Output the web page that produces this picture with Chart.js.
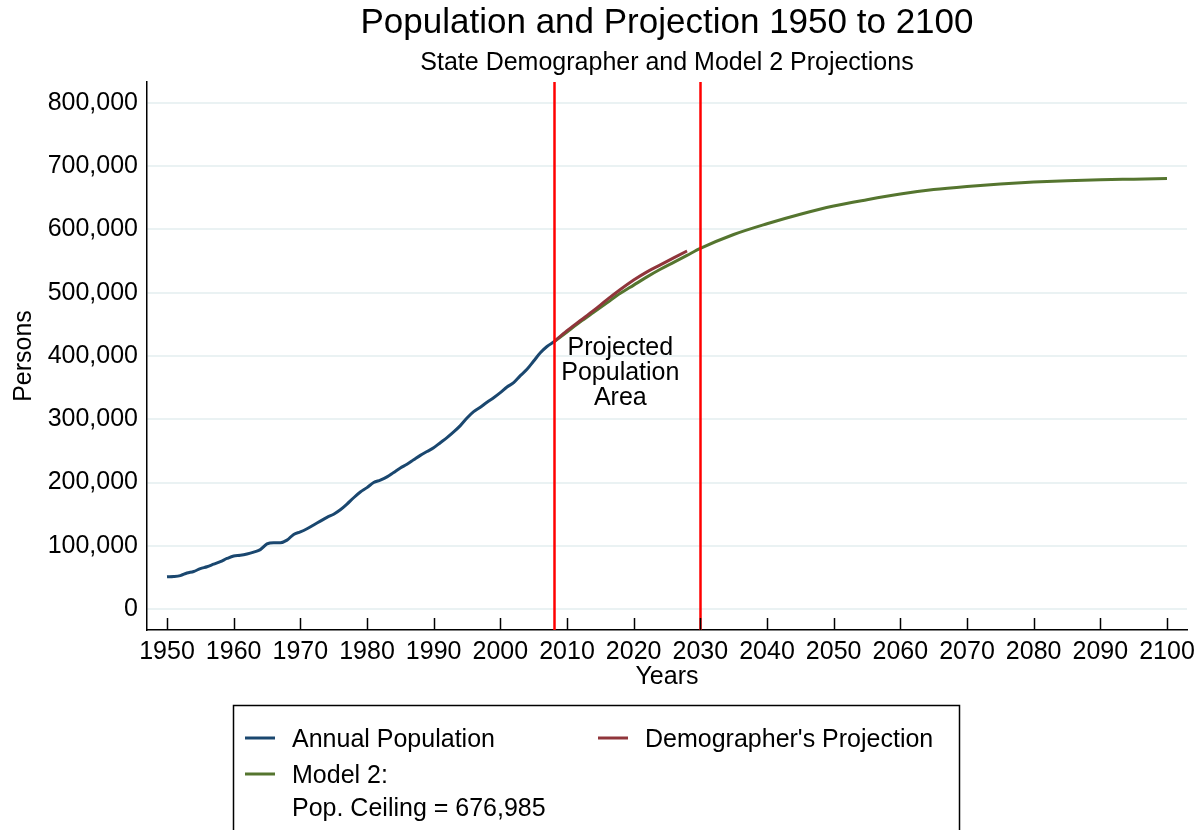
<!DOCTYPE html>
<html>
<head>
<meta charset="utf-8">
<title>Population and Projection 1950 to 2100</title>
<script src="https://cdn.jsdelivr.net/npm/chart.js@4.4.0/dist/chart.umd.min.js"></script>
<style>
  html, body { margin: 0; padding: 0; background: #fff; }
  canvas { display: block; }
</style>
</head>
<body>
<canvas id="popChart" width="1204" height="830"></canvas>
<script>
const FONT = '"Liberation Sans", Arial, sans-serif';

// annual population
const annualYears = [1950, 1951, 1952, 1953, 1954, 1955, 1956, 1957, 1958, 1959,
                     1960, 1961, 1962, 1963, 1964, 1965, 1966, 1967, 1968, 1969,
                     1970, 1971, 1972, 1973, 1974, 1975, 1976, 1977, 1978, 1979,
                     1980, 1981, 1982, 1983, 1984, 1985, 1986, 1987, 1988, 1989,
                     1990, 1991, 1992, 1993, 1994, 1995, 1996, 1997, 1998, 1999,
                     2000, 2001, 2002, 2003, 2004, 2005, 2006, 2007, 2008];
const annualPop = [51000, 51500, 53000, 57000, 59500, 64000, 67000, 71000, 75000, 80000,
                   84000, 85000, 87000, 90000, 94000, 103000, 105000, 105000, 109000, 118000,
                   122000, 127000, 133000, 139000, 145000, 150000, 157000, 166000, 176000, 185000,
                   192000, 200000, 204000, 209000, 216000, 223000, 229000, 236000, 243000, 249000,
                   255000, 263000, 271000, 280000, 290000, 302000, 312000, 319000, 327000, 334000,
                   342000, 351000, 358000, 369000, 379000, 392000, 405000, 415000, 422000];

// state demographer projection
const demogYears = [2008, 2010, 2012, 2014, 2016, 2018, 2020, 2022, 2024, 2026, 2028];
const demogPop = [422000, 440000, 456000, 472000, 489000, 505000, 520000, 533000, 544000, 555000, 566000];

// model 2 projection
const modelYears = [2008, 2010, 2012, 2014, 2016, 2018, 2020, 2022, 2024, 2026, 2028, 2030,
                    2035, 2040, 2045, 2050, 2055, 2060, 2065, 2070, 2075, 2080, 2085, 2090, 2095, 2100];
const modelPop = [422000, 438000, 454000, 469000, 484000, 499000, 512000, 525000, 537000, 548000, 559000, 570000,
                  592000, 609000, 624000, 637000, 647000, 656000, 663000, 668000, 672000, 675000, 677000, 678500, 679500, 680500];

const xTicks = [1950, 1960, 1970, 1980, 1990, 2000, 2010, 2020, 2030, 2040, 2050, 2060, 2070, 2080, 2090, 2100];
const yTicks = [0, 100000, 200000, 300000, 400000, 500000, 600000, 700000, 800000];

const markerYears = [2008, 2030];
const noteLines = ['Projected', 'Population', 'Area'];
const noteAt = [2018, 412000];

const titleText = 'Population and Projection 1950 to 2100';
const subtitleText = 'State Demographer and Model 2 Projections';

const toPoints = (xs, ys) => xs.map((x, i) => ({ x: x, y: ys[i] }));

// red markers, note, inward x ticks, titles and the boxed legend
const decorPlugin = {
    id: 'decor',
    afterDatasetsDraw(chart) {
        const { ctx, chartArea, scales: { x, y } } = chart;
        ctx.save();
        ctx.strokeStyle = '#ff0000';
        ctx.lineWidth = 2.5;
        markerYears.forEach(yr => {
            const px = Math.round(x.getPixelForValue(yr)) + 0.5;
            ctx.beginPath();
            ctx.moveTo(px, chartArea.top);
            ctx.lineTo(px, chartArea.bottom);
            ctx.stroke();
        });

        ctx.fillStyle = '#000';
        ctx.font = `25px ${FONT}`;
        ctx.textAlign = 'center';
        ctx.textBaseline = 'middle';
        const nx = x.getPixelForValue(noteAt[0]);
        const ny = y.getPixelForValue(noteAt[1]);
        noteLines.forEach((t, i) => ctx.fillText(t, nx, ny + i * 25));
        ctx.restore();
    },
    afterDraw(chart) {
        const { ctx, chartArea, scales: { x } } = chart;
        ctx.save();

        // x ticks point up into the plot
        ctx.strokeStyle = '#000';
        ctx.lineWidth = 1.5;
        xTicks.forEach(v => {
            const px = Math.round(x.getPixelForValue(v)) + 0.5;
            ctx.beginPath();
            ctx.moveTo(px, chartArea.bottom);
            ctx.lineTo(px, chartArea.bottom - 12);
            ctx.stroke();
        });

        // titles centred over the plot region
        const cx = (chartArea.left + chartArea.right) / 2;
        ctx.fillStyle = '#000';
        ctx.textAlign = 'center';
        ctx.textBaseline = 'alphabetic';
        ctx.font = `35px ${FONT}`;
        ctx.fillText(titleText, cx, 33);
        ctx.font = `25px ${FONT}`;
        ctx.fillText(subtitleText, cx, 70);

        // legend box
        ctx.lineWidth = 1.5;
        ctx.strokeRect(233.5, 705.5, 726, 140);
        const ds = chart.data.datasets;
        const slots = [
            { d: ds[0], x: 245, y: 740 },
            { d: ds[1], x: 598, y: 740 },
            { d: ds[2], x: 245, y: 776 }
        ];
        ctx.textAlign = 'left';
        ctx.textBaseline = 'middle';
        slots.forEach(s => {
            ctx.strokeStyle = s.d.borderColor;
            ctx.lineWidth = 3;
            ctx.beginPath();
            ctx.moveTo(s.x, s.y - 2);
            ctx.lineTo(s.x + 30, s.y - 2);
            ctx.stroke();
            const lines = Array.isArray(s.d.label) ? s.d.label : [s.d.label];
            lines.forEach((t, i) => ctx.fillText(t, s.x + 47, s.y + i * 33));
        });
        ctx.restore();
    }
};

new Chart(document.getElementById('popChart'), {
    type: 'line',
    data: {
        datasets: [
            {
                label: 'Annual Population',
                data: toPoints(annualYears, annualPop),
                borderColor: '#1a476f',
                borderWidth: 3,
                pointRadius: 0,
                cubicInterpolationMode: 'monotone'
            },
            {
                label: "Demographer's Projection",
                data: toPoints(demogYears, demogPop),
                borderColor: '#90353b',
                borderWidth: 3,
                pointRadius: 0,
                cubicInterpolationMode: 'monotone'
            },
            {
                label: ['Model 2:', 'Pop. Ceiling = 676,985'],
                data: toPoints(modelYears, modelPop),
                borderColor: '#55752f',
                borderWidth: 3,
                pointRadius: 0,
                cubicInterpolationMode: 'monotone'
            }
        ]
    },
    options: {
        responsive: false,
        animation: false,
        layout: { padding: { left: 0, right: 17, top: 82, bottom: 130 } },
        plugins: {
            legend: { display: false },
            tooltip: { enabled: false }
        },
        scales: {
            x: {
                type: 'linear',
                min: 1947,
                max: 2103,
                afterBuildTicks: s => { s.ticks = xTicks.map(v => ({ value: v })); },
                afterFit: s => { s.height = 70; s.paddingLeft = 0; s.paddingRight = 0; },
                grid: { display: true, drawOnChartArea: false, drawTicks: false },
                border: { display: true, color: '#000', width: 1.5 },
                ticks: {
                    color: '#000',
                    padding: 7,
                    maxRotation: 0,
                    autoSkip: false,
                    font: { family: FONT, size: 25 },
                    callback: v => String(v)
                },
                title: {
                    display: true,
                    text: 'Years',
                    color: '#000',
                    font: { family: FONT, size: 25 },
                    padding: { top: 0, bottom: 8 }
                }
            },
            y: {
                min: -33000,
                max: 833000,
                afterBuildTicks: s => { s.ticks = yTicks.map(v => ({ value: v })); },
                afterFit: s => { s.width = 147; },
                grid: { color: '#eaf2f3', lineWidth: 2, drawTicks: false },
                border: { display: true, color: '#000', width: 1.5 },
                ticks: {
                    color: '#000',
                    padding: 9,
                    autoSkip: false,
                    font: { family: FONT, size: 25 },
                    callback: v => v.toLocaleString('en-US')
                },
                title: {
                    display: true,
                    text: 'Persons',
                    color: '#000',
                    font: { family: FONT, size: 25 },
                    padding: { top: 9, bottom: 0 }
                }
            }
        }
    },
    plugins: [decorPlugin]
});
</script>
</body>
</html>
